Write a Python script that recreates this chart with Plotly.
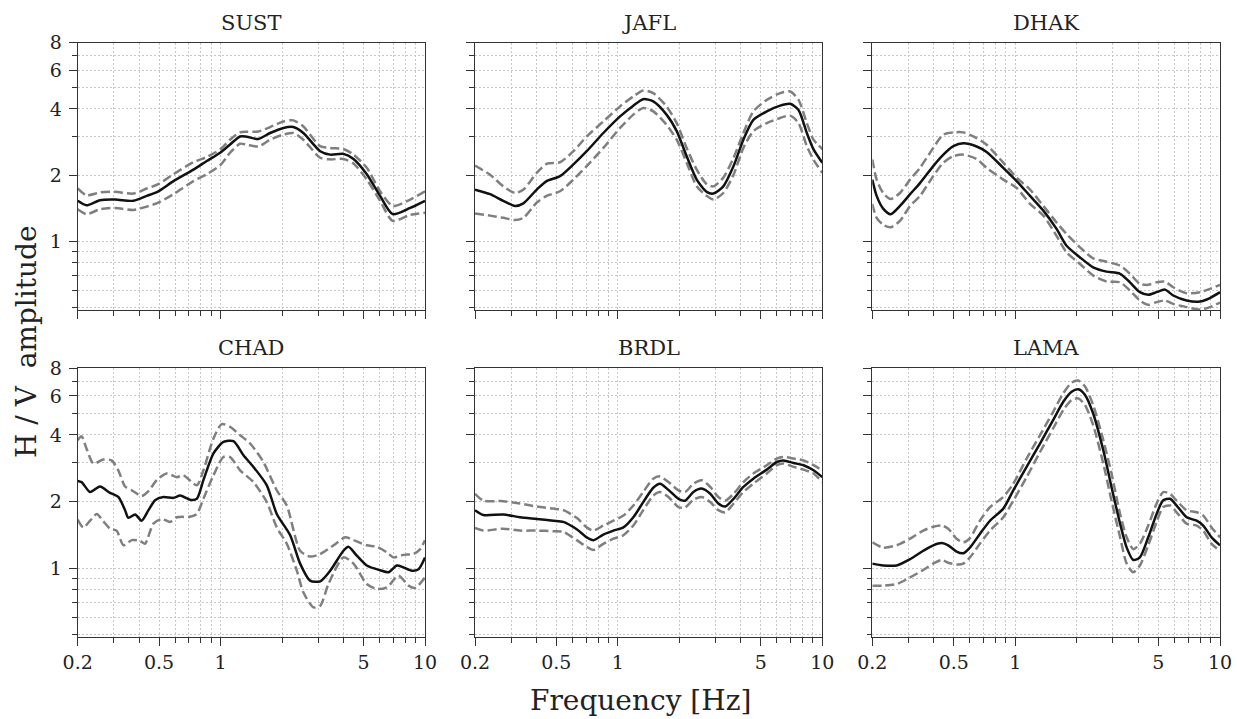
import plotly.graph_objects as go
from plotly.subplots import make_subplots
import math

STATIONS = ["SUST", "JAFL", "DHAK", "CHAD", "BRDL", "LAMA"]

# ---------------- SUST ----------------
SUST_F = [0.2, 0.221, 0.257, 0.305, 0.375, 0.435, 0.496, 0.588, 0.736, 0.856, 0.995, 1.113, 1.246, 1.343,
          1.53, 1.747, 2.03, 2.27, 2.54, 3.07, 3.44, 3.99, 4.47, 5.19, 6.03, 6.95, 8.46, 10]
SUST_MEAN = [1.53, 1.46, 1.54, 1.55, 1.53, 1.61, 1.69, 1.88, 2.12, 2.32, 2.53, 2.76, 3.0, 2.99,
             2.92, 3.11, 3.28, 3.31, 3.11, 2.57, 2.48, 2.5, 2.37, 2.02, 1.61, 1.33, 1.42, 1.53]
SUST_UP = [1.74, 1.62, 1.67, 1.68, 1.65, 1.74, 1.82, 2.02, 2.29, 2.42, 2.62, 2.9, 3.13, 3.15,
           3.16, 3.31, 3.51, 3.55, 3.33, 2.71, 2.66, 2.63, 2.48, 2.16, 1.69, 1.45, 1.55, 1.69]
SUST_LO = [1.40, 1.33, 1.40, 1.42, 1.39, 1.44, 1.50, 1.64, 1.88, 2.02, 2.22, 2.53, 2.78, 2.75,
           2.7, 2.9, 3.06, 3.11, 2.9, 2.40, 2.36, 2.37, 2.26, 1.91, 1.53, 1.24, 1.32, 1.35]

# ---------------- JAFL ----------------
JAFL_F = [0.2, 0.237, 0.275, 0.314, 0.345, 0.401, 0.448, 0.521, 0.606, 0.704, 0.849, 1.025, 1.19, 1.33,
          1.49, 1.73, 1.94, 2.17, 2.43, 2.72, 2.93, 3.28, 3.68, 4.11, 4.6, 5.35, 6.22, 6.96, 7.65, 8.4,
          9.06, 10]
JAFL_MEAN = [1.72, 1.64, 1.53, 1.45, 1.49, 1.72, 1.88, 1.98, 2.24, 2.57, 3.11, 3.70, 4.14, 4.43,
             4.33, 3.77, 3.17, 2.44, 1.91, 1.68, 1.65, 1.78, 2.2, 2.9, 3.57, 3.9, 4.14, 4.22, 3.96, 3.11,
             2.62, 2.28]
JAFL_UP = [2.21, 2.01, 1.78, 1.66, 1.72, 2.05, 2.25, 2.29, 2.57, 3.0, 3.51, 4.11, 4.56, 4.85,
           4.72, 4.11, 3.45, 2.66, 2.12, 1.82, 1.78, 1.95, 2.40, 3.11, 3.9, 4.40, 4.72, 4.8, 4.4, 3.45,
           2.9, 2.63]
JAFL_LO = [1.34, 1.31, 1.28, 1.25, 1.28, 1.5, 1.61, 1.69, 1.91, 2.2, 2.66, 3.28, 3.77, 4.04,
           3.9, 3.39, 2.9, 2.28, 1.78, 1.61, 1.55, 1.66, 2.01, 2.66, 3.17, 3.45, 3.64, 3.73, 3.45, 2.71,
           2.35, 2.05]

# ---------------- DHAK ----------------
DHAK_F = [0.2, 0.21, 0.226, 0.246, 0.273, 0.306, 0.342, 0.397, 0.445, 0.498, 0.557, 0.647, 0.724, 0.873,
          1.015, 1.18, 1.37, 1.59, 1.78, 2.07, 2.40, 2.79, 3.25, 3.63, 4.06, 4.46, 4.90, 5.38, 5.91,
          6.87, 7.98, 8.93, 10]
DHAK_MEAN = [1.91, 1.61, 1.41, 1.33, 1.45, 1.64, 1.84, 2.2, 2.48, 2.71, 2.79, 2.7, 2.55, 2.16,
             1.88, 1.61, 1.38, 1.14, 0.956, 0.846, 0.763, 0.729, 0.713, 0.652, 0.588, 0.572, 0.588,
             0.604, 0.568, 0.539, 0.533, 0.553, 0.588]
DHAK_UP = [2.36, 1.91, 1.66, 1.56, 1.66, 1.91, 2.16, 2.66, 3.06, 3.13, 3.13, 2.95, 2.75, 2.28,
           1.95, 1.72, 1.45, 1.22, 1.08, 0.94, 0.838, 0.809, 0.776, 0.713, 0.641, 0.635, 0.652,
           0.657, 0.619, 0.582, 0.588, 0.609, 0.635]
DHAK_LO = [1.48, 1.28, 1.19, 1.16, 1.24, 1.45, 1.61, 1.98, 2.28, 2.44, 2.48, 2.37, 2.16, 1.91,
           1.75, 1.48, 1.31, 1.06, 0.892, 0.79, 0.70, 0.657, 0.652, 0.598, 0.539, 0.515, 0.53,
           0.539, 0.52, 0.503, 0.49, 0.503, 0.527]

# ---------------- CHAD ----------------
CHAD_F_MEAN = [0.2, 0.209, 0.23, 0.257, 0.288, 0.316, 0.341, 0.354, 0.382, 0.411, 0.444, 0.478, 0.525,
               0.588, 0.634, 0.709, 0.765, 0.824, 0.923, 1.033, 1.156, 1.294, 1.448, 1.683, 1.883,
               2.19, 2.45, 2.74, 3.07, 3.44, 3.99, 4.22, 4.64, 5.19, 6.03, 6.63, 7.28, 7.85, 8.62,
               9.29, 10]
CHAD_MEAN = [2.48, 2.45, 2.21, 2.34, 2.19, 2.10, 1.83, 1.69, 1.75, 1.64, 1.83, 2.03, 2.1,
             2.08, 2.13, 2.04, 2.06, 2.5, 3.3, 3.72, 3.75, 3.24, 2.87, 2.37, 1.76,
             1.41, 1.05, 0.88, 0.873, 0.976, 1.2, 1.25, 1.14, 1.03, 0.98, 0.96, 1.03, 1.01, 0.976,
             0.99, 1.12]
CHAD_F_UP = [0.2, 0.209, 0.221, 0.239, 0.267, 0.293, 0.316, 0.341, 0.368, 0.411, 0.444, 0.487, 0.545,
             0.61, 0.658, 0.765, 0.824, 0.923, 1.013, 1.113, 1.246, 1.395, 1.62, 1.883, 2.108, 2.45,
             2.74, 3.07, 3.57, 4.07, 4.47, 5.19, 5.81, 6.51, 7.01, 7.85, 8.79, 9.47, 10]
CHAD_UP = [3.79, 3.95, 3.47, 2.97, 3.1, 3.07, 2.77, 2.34, 2.25, 2.12, 2.23, 2.5, 2.68,
           2.58, 2.63, 2.37, 2.77, 3.86, 4.48, 4.35, 3.99, 3.66, 3.02, 2.25, 1.92, 1.2,
           1.13, 1.16, 1.27, 1.38, 1.34, 1.27, 1.25, 1.18, 1.12, 1.15, 1.16, 1.22, 1.34]
CHAD_F_LO = [0.2, 0.213, 0.23, 0.248, 0.267, 0.288, 0.31, 0.335, 0.368, 0.404, 0.427, 0.469, 0.515,
             0.566, 0.61, 0.709, 0.765, 0.824, 0.923, 1.033, 1.113, 1.246, 1.448, 1.683, 1.883, 2.108,
             2.36, 2.54, 2.85, 3.07, 3.37, 3.99, 4.47, 5.19, 5.81, 6.51, 7.42, 8.31, 8.95, 10]
CHAD_LO = [1.66, 1.53, 1.64, 1.76, 1.63, 1.51, 1.48, 1.27, 1.34, 1.33, 1.29, 1.59, 1.67,
           1.62, 1.70, 1.71, 1.76, 2.06, 2.63, 3.18, 3.18, 2.77, 2.45, 1.99, 1.53, 1.29,
           0.976, 0.779, 0.666, 0.677, 0.849, 1.12, 1.05, 0.849, 0.806, 0.82, 0.926, 0.835, 0.815, 0.91]

# ---------------- BRDL ----------------
BRDL_F = [0.2, 0.22, 0.275, 0.332, 0.401, 0.483, 0.541, 0.629, 0.704, 0.759, 0.849, 0.951, 1.064, 1.19,
          1.33, 1.49, 1.608, 1.767, 1.978, 2.13, 2.34, 2.57, 2.83, 3.1, 3.35, 3.68, 4.11, 4.6, 5.35,
          5.99, 6.46, 7.23, 8.09, 9.06, 10]
BRDL_MEAN = [1.83, 1.74, 1.75, 1.70, 1.67, 1.64, 1.62, 1.50, 1.38, 1.34, 1.42, 1.48, 1.53, 1.70,
             1.99, 2.31, 2.41, 2.26, 2.06, 2.02, 2.21, 2.29, 2.17, 1.96, 1.90, 2.06, 2.33, 2.54, 2.79,
             3.02, 3.07, 2.99, 2.92, 2.77, 2.58]
BRDL_UP = [2.17, 2.02, 2.01, 1.96, 1.90, 1.86, 1.83, 1.69, 1.53, 1.48, 1.56, 1.64, 1.73, 1.92,
           2.21, 2.54, 2.60, 2.45, 2.25, 2.21, 2.41, 2.5, 2.33, 2.10, 2.02, 2.17, 2.45, 2.68, 2.92,
           3.13, 3.18, 3.13, 3.07, 2.92, 2.77]
BRDL_LO = [1.52, 1.48, 1.51, 1.48, 1.48, 1.47, 1.46, 1.34, 1.25, 1.21, 1.29, 1.36, 1.41, 1.56,
           1.83, 2.13, 2.21, 2.10, 1.89, 1.88, 2.04, 2.10, 1.99, 1.83, 1.79, 1.96, 2.21, 2.41, 2.68,
           2.92, 2.97, 2.87, 2.79, 2.68, 2.45]

# ---------------- LAMA ----------------
LAMA_F = [0.2, 0.226, 0.263, 0.306, 0.355, 0.397, 0.436, 0.47, 0.516, 0.557, 0.6, 0.671, 0.752, 0.873,
          0.977, 1.135, 1.32, 1.53, 1.715, 1.883, 2.03, 2.19, 2.40, 2.69, 2.95, 3.25, 3.5, 3.77, 4.06,
          4.46, 4.90, 5.28, 5.7, 6.14, 6.87, 7.69, 8.28, 9.1, 10]
LAMA_MEAN = [1.05, 1.03, 1.03, 1.10, 1.20, 1.27, 1.30, 1.27, 1.19, 1.17, 1.24, 1.43, 1.64, 1.86,
             2.25, 2.87, 3.66, 4.67, 5.65, 6.27, 6.43, 6.06, 5.0, 3.41, 2.33, 1.59, 1.24, 1.09, 1.12,
             1.38, 1.76, 2.03, 2.06, 1.92, 1.70, 1.64, 1.56, 1.38, 1.27]
LAMA_UP = [1.31, 1.24, 1.27, 1.36, 1.48, 1.54, 1.56, 1.51, 1.36, 1.31, 1.37, 1.64, 1.89, 2.1,
           2.41, 3.13, 3.99, 5.09, 6.17, 6.89, 7.04, 6.62, 5.46, 3.79, 2.68, 1.76, 1.38, 1.22, 1.29,
           1.56, 1.96, 2.21, 2.17, 2.02, 1.83, 1.79, 1.73, 1.53, 1.38]
LAMA_LO = [0.835, 0.835, 0.849, 0.91, 0.983, 1.05, 1.09, 1.06, 1.04, 1.05, 1.12, 1.29, 1.48, 1.70,
           2.02, 2.58, 3.35, 4.28, 5.18, 5.75, 5.85, 5.46, 4.43, 2.97, 2.02, 1.38, 1.05, 0.96, 1.03,
           1.27, 1.62, 1.89, 1.92, 1.79, 1.59, 1.56, 1.48, 1.29, 1.20]

X_MAJOR = [0.2, 0.5, 1, 5, 10]
X_MAJOR_TEXT = ["0.2", "0.5", "1", "5", "10"]
X_MINOR = [0.3, 0.4, 0.6, 0.7, 0.8, 0.9, 2, 3, 4, 6, 7, 8, 9]
Y_MAJOR = [1, 2, 4, 6, 8]
Y_MAJOR_TEXT = ["1", "2", "4", "6", "8"]
Y_MINOR = [0.5, 0.6, 0.7, 0.8, 0.9, 3, 5, 7]

panels = [
    (SUST_F, SUST_MEAN, SUST_F, SUST_UP, SUST_F, SUST_LO),
    (JAFL_F, JAFL_MEAN, JAFL_F, JAFL_UP, JAFL_F, JAFL_LO),
    (DHAK_F, DHAK_MEAN, DHAK_F, DHAK_UP, DHAK_F, DHAK_LO),
    (CHAD_F_MEAN, CHAD_MEAN, CHAD_F_UP, CHAD_UP, CHAD_F_LO, CHAD_LO),
    (BRDL_F, BRDL_MEAN, BRDL_F, BRDL_UP, BRDL_F, BRDL_LO),
    (LAMA_F, LAMA_MEAN, LAMA_F, LAMA_UP, LAMA_F, LAMA_LO),
]

W, H = 1237, 719
col_px = [(77.7, 425.0), (475.0, 822.3), (872.3, 1220.0)]
row_px = [(42.7, 310.0), (368.3, 637.3)]

fig = make_subplots(rows=2, cols=3)
FONT = "DejaVu Serif"
GRID = "#c8c8c8"
GDASH = "2px,2px"
AX = "#333333"
TXT = "#222222"

for i, (fm, m, fu, u, fl, lo) in enumerate(panels):
    r, c = i // 3 + 1, i % 3 + 1
    for fx, vy, color, dash in [(fu, u, "#7f7f7f", "9px,4px"), (fl, lo, "#7f7f7f", "9px,4px"),
                                (fm, m, "#111111", "solid")]:
        fig.add_trace(go.Scatter(x=fx, y=vy, mode="lines",
                                 line=dict(color=color, width=2.5, dash=dash, shape="spline", smoothing=0.7),
                                 showlegend=False, hoverinfo="skip"), row=r, col=c)
    x0, x1 = col_px[c - 1]
    yt, yb = row_px[r - 1]
    fig.update_xaxes(type="log", range=[math.log10(0.2), 1.0], automargin=False,
                     domain=[x0 / W, x1 / W],
                     tickmode="array", tickvals=X_MAJOR, ticktext=X_MAJOR_TEXT,
                     showticklabels=(r == 2),
                     ticks="outside", ticklen=8, tickwidth=1.3, tickcolor=AX,
                     showline=True, linecolor=AX, linewidth=1.3, mirror=True,
                     showgrid=True, gridcolor=GRID, griddash=GDASH, gridwidth=1,
                     minor=dict(tickmode="array", tickvals=X_MINOR, ticks="outside", ticklen=4.5,
                                tickwidth=1, tickcolor=AX, showgrid=True, gridcolor=GRID,
                                griddash=GDASH, gridwidth=1),
                     tickfont=dict(family=FONT, size=19, color=TXT),
                     zeroline=False, row=r, col=c)
    fig.update_yaxes(type="log", range=[math.log10(0.488), math.log10(8)], automargin=False,
                     domain=[1 - yb / H, 1 - yt / H],
                     tickmode="array", tickvals=Y_MAJOR, ticktext=Y_MAJOR_TEXT,
                     showticklabels=(c == 1), ticklabelstandoff=3,
                     ticks="outside", ticklen=8, tickwidth=1.3, tickcolor=AX,
                     showline=True, linecolor=AX, linewidth=1.3, mirror=True,
                     showgrid=True, gridcolor=GRID, griddash=GDASH, gridwidth=1,
                     minor=dict(tickmode="array", tickvals=Y_MINOR, ticks="outside", ticklen=4.5,
                                tickwidth=1, tickcolor=AX, showgrid=True, gridcolor=GRID,
                                griddash=GDASH, gridwidth=1),
                     tickfont=dict(family=FONT, size=19, color=TXT),
                     zeroline=False, row=r, col=c)
    fig.add_annotation(text=STATIONS[i], xref="paper", yref="paper",
                       x=(x0 + x1) / 2 / W, y=1 - (yt - 20) / H, yanchor="middle", xanchor="center",
                       showarrow=False, font=dict(family=FONT, size=21, color=TXT))

fig.add_annotation(text="H / V\u00a0 amplitude", xref="paper", yref="paper", x=26 / W, y=1 - 342 / H,
                   textangle=-90, showarrow=False, xanchor="center", yanchor="middle",
                   font=dict(family=FONT, size=28, color=TXT))
fig.add_annotation(text="Frequency [Hz]", xref="paper", yref="paper", x=641 / W, y=1 - 700 / H,
                   showarrow=False, xanchor="center", yanchor="middle",
                   font=dict(family=FONT, size=28, color=TXT))

fig.update_layout(width=W, height=H, margin=dict(l=0, r=0, t=0, b=0, autoexpand=False),
                  plot_bgcolor="white", paper_bgcolor="white")
fig.write_html("out.html")
